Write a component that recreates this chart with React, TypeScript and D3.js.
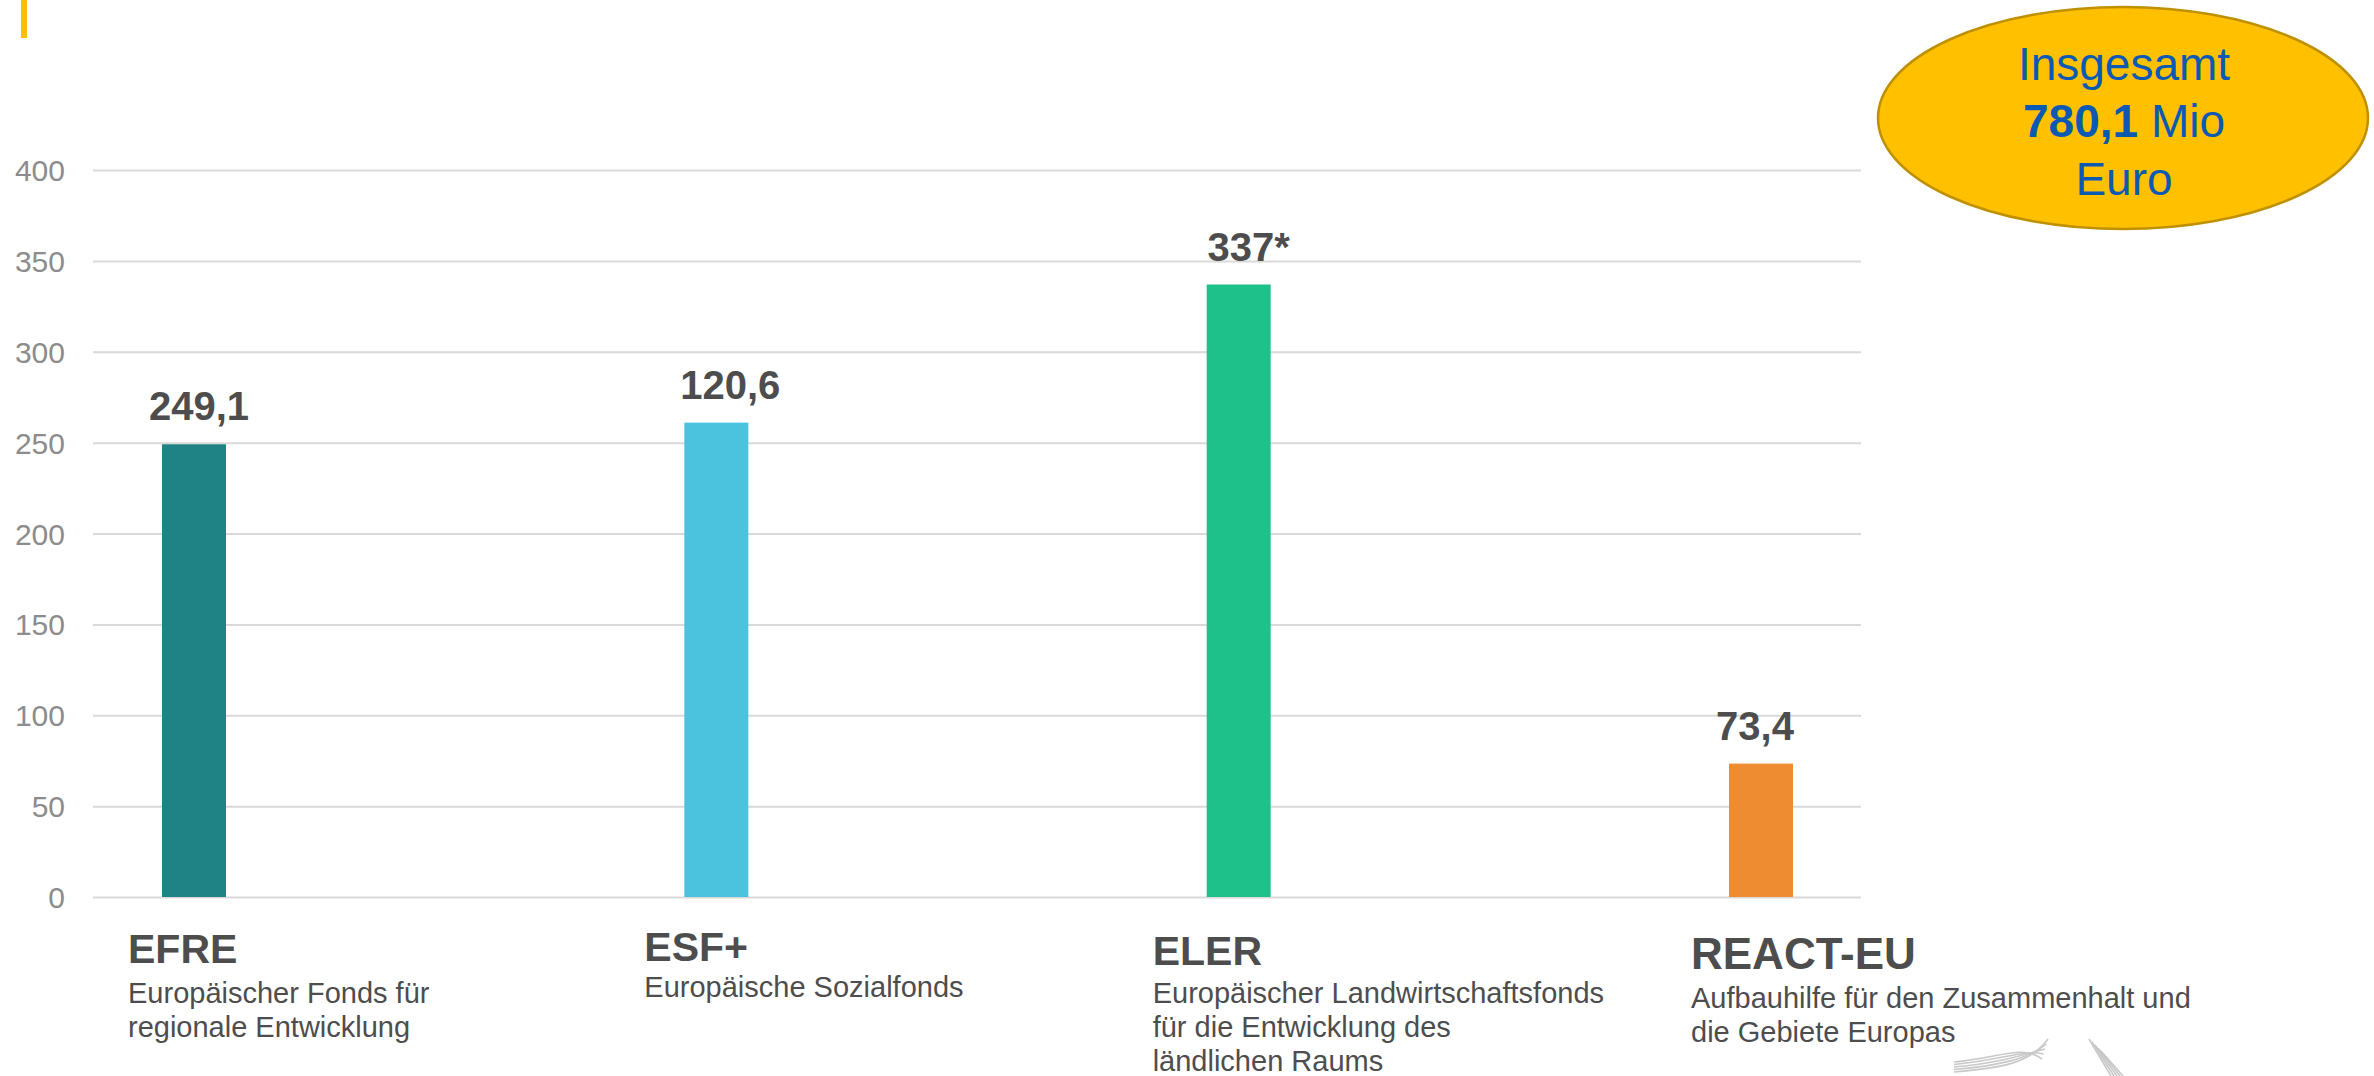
import React, { Component } from "react";
import * as d3 from "d3";

// DATA
const funds = ["EFRE", "ESF+", "ELER", "REACT-EU"];
const fundValues = [249.1, 261, 337, 73.4];
const valueLabels = ["249,1", "120,6", "337*", "73,4"];
const fundDescriptions = [
  ["Europäischer Fonds für", "regionale Entwicklung"],
  ["Europäische Sozialfonds"],
  ["Europäischer Landwirtschaftsfonds", "für die Entwicklung des", "ländlichen Raums"],
  ["Aufbauhilfe für den Zusammenhalt und", "die Gebiete Europas"],
];
const fundColors = ["#1f8285", "#4bc3de", "#1fc18a", "#ed8c30"];
const yTicks = [0, 50, 100, 150, 200, 250, 300, 350, 400];
const totalLabel = "Insgesamt";
const totalValue = "780,1";
const totalUnit = "Mio";
const totalCurrency = "Euro";

// caption layout (offsets from bar centre, baselines)
const captionDx = [-66, -72, -86, -70];
const captionTop = [963, 961, 965, 969];
const captionSize = [41, 41, 41, 44];
const descTop = [1003, 997, 1003, 1008];
const valueDx = [5, 14, 10, -6];

const FONT = "'Liberation Sans', Arial, Helvetica, sans-serif";
const W = 2374;
const H = 1076;

class App extends Component {
  svgRef = React.createRef<SVGSVGElement>();

  componentDidMount() {
    this.drawChart();
  }

  drawChart() {
    const svg = d3.select(this.svgRef.current);
    svg.selectAll("*").remove();

    const xScale = d3.scalePoint().domain(funds).range([194, 1761]);
    const yScale = d3.scaleLinear().domain([0, 400]).range([897, 170]);
    const barWidth = 64;

    // yellow accent
    svg.append("rect")
      .attr("x", 21).attr("y", 0)
      .attr("width", 6).attr("height", 38)
      .attr("fill", "#ffc000");

    // GRID
    const grid = svg.append("g")
      .call(d3.axisLeft(yScale).tickValues(yTicks).tickSize(-(1861 - 93)).tickFormat(d => String(d)))
      .attr("transform", "translate(93,0)");
    grid.select(".domain").remove();
    grid.selectAll(".tick line")
      .attr("stroke", "#d9d9d9")
      .attr("stroke-width", 2);
    grid.selectAll(".tick text")
      .attr("x", -28)
      .attr("dy", "0.35em")
      .attr("fill", "#8c8c8c")
      .attr("font-size", 30)
      .attr("font-family", FONT);

    // BARS
    svg.append("g")
      .selectAll("rect")
      .data(funds)
      .enter()
      .append("rect")
      .attr("x", d => (xScale(d) as number) - barWidth / 2)
      .attr("y", (d, i) => yScale(fundValues[i]))
      .attr("width", barWidth)
      .attr("height", (d, i) => yScale(0) - yScale(fundValues[i]))
      .attr("fill", (d, i) => fundColors[i]);

    // VALUE LABELS
    svg.append("g")
      .selectAll("text")
      .data(funds)
      .enter()
      .append("text")
      .attr("x", (d, i) => (xScale(d) as number) + valueDx[i])
      .attr("y", (d, i) => yScale(fundValues[i]) - 24)
      .attr("text-anchor", "middle")
      .attr("font-family", FONT)
      .attr("font-weight", "bold")
      .attr("font-size", 40)
      .attr("fill", "#4d4d4d")
      .text((d, i) => valueLabels[i]);

    // CAPTIONS
    funds.forEach((f, i) => {
      const x = (xScale(f) as number) + captionDx[i];
      svg.append("text")
        .attr("x", x)
        .attr("y", captionTop[i])
        .attr("font-family", FONT)
        .attr("font-weight", "bold")
        .attr("font-size", captionSize[i])
        .attr("fill", "#4d4d4d")
        .text(f);
      fundDescriptions[i].forEach((line, j) => {
        svg.append("text")
          .attr("x", x)
          .attr("y", descTop[i] + j * 34)
          .attr("font-family", FONT)
          .attr("font-size", 29)
          .attr("fill", "#4d4d4d")
          .text(line);
      });
    });

    // TOTAL BUBBLE
    const bubble = svg.append("g");
    bubble.append("ellipse")
      .attr("cx", 2123).attr("cy", 118)
      .attr("rx", 245).attr("ry", 111)
      .attr("fill", "#ffc000")
      .attr("stroke", "#bf9000")
      .attr("stroke-width", 2.5);
    const blue = "#0a5ab4";
    bubble.append("text")
      .attr("x", 2124).attr("y", 80)
      .attr("text-anchor", "middle")
      .attr("font-family", FONT).attr("font-size", 46)
      .attr("fill", blue)
      .text(totalLabel);
    const mid = bubble.append("text")
      .attr("x", 2124).attr("y", 137)
      .attr("text-anchor", "middle")
      .attr("font-family", FONT).attr("font-size", 46)
      .attr("fill", blue);
    mid.append("tspan").attr("font-weight", "bold").text(totalValue);
    mid.append("tspan").text(" " + totalUnit);
    bubble.append("text")
      .attr("x", 2124).attr("y", 195)
      .attr("text-anchor", "middle")
      .attr("font-family", FONT).attr("font-size", 46)
      .attr("fill", blue)
      .text(totalCurrency);

    // logo fragment, bottom right
    const logo = svg.append("g")
      .attr("fill", "none")
      .attr("stroke", "#c8c8c8")
      .attr("stroke-width", 1.6);
    for (let k = 0; k < 5; k++) {
      const o = k * 5;
      logo.append("path")
        .attr("d", `M${1954} ${1072 - k * 2.5} C${2000} ${1068 - k * 2.5} ${2030 - o * 0.4} ${1064 - o} ${2048 - o * 0.3} ${1039 + o}`);
      logo.append("path")
        .attr("d", `M${2089 + k * 3} ${1039 + k * 3} L${2089 + k * 3 + 22} ${1076}`);
    }
  }

  render() {
    return (
      <svg
        ref={this.svgRef}
        width={W}
        height={H}
        style={{ position: "absolute", left: 0, top: 0, display: "block", background: "#fff" }}
      />
    );
  }
}

export default App;
